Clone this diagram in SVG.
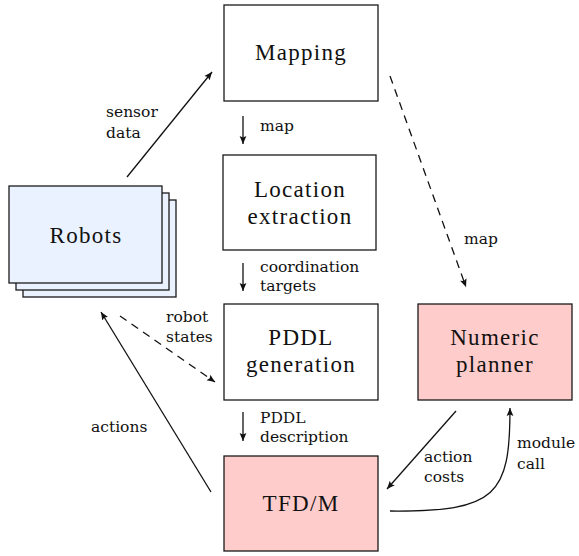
<svg xmlns="http://www.w3.org/2000/svg" width="579" height="556" viewBox="0 0 579 556">
  <style>
    .box { stroke: #1a1a1a; stroke-width: 1.3; }
    .plain { fill: #ffffff; }
    .solver { fill: #ffcccc; }
    .robot { fill: #eaf2ff; }
    .nlabel { font-size: 23px; letter-spacing: 1.3px; fill: #111; text-anchor: middle; }
    .elabel { font-size: 15.5px; fill: #111; }
    .edge { fill: none; stroke: #111; stroke-width: 1.3; marker-end: url(#tip); }
    .dashed { stroke-dasharray: 8 6; }
  </style>
  <defs>
    <marker id="tip" markerUnits="userSpaceOnUse" markerWidth="10" markerHeight="8" refX="8" refY="4" orient="auto">
      <path d="M0,0.6 L8,4 L0,7.4 L1.6,4 Z" fill="#111"/>
    </marker>
  </defs>

  <!-- nodes -->
  <g font-family="Liberation Serif, Times New Roman, serif">
    <g id="robots">
      <rect class="box robot" x="23" y="200" width="153" height="97"/>
      <rect class="box robot" x="16" y="193" width="153" height="97"/>
      <rect class="box robot" x="9" y="186" width="153" height="97"/>
      <text class="nlabel" x="86" y="243">Robots</text>
    </g>
    <g id="mapping">
      <rect class="box plain" x="224" y="5" width="154" height="96"/>
      <text class="nlabel" x="301" y="60">Mapping</text>
    </g>
    <g id="location-extraction">
      <rect class="box plain" x="223" y="155" width="153" height="95"/>
      <text class="nlabel" x="300" y="197">Location</text>
      <text class="nlabel" x="300" y="224">extraction</text>
    </g>
    <g id="pddl-generation">
      <rect class="box plain" x="224" y="304" width="154" height="96"/>
      <text class="nlabel" x="301" y="345">PDDL</text>
      <text class="nlabel" x="301" y="372">generation</text>
    </g>
    <g id="numeric-planner">
      <rect class="box solver" x="418" y="304" width="154" height="96"/>
      <text class="nlabel" x="495" y="345">Numeric</text>
      <text class="nlabel" x="495" y="372">planner</text>
    </g>
    <g id="tfdm">
      <rect class="box solver" x="224" y="456" width="154" height="95"/>
      <text class="nlabel" x="301" y="511">TFD/M</text>
    </g>
  </g>

  <!-- connectors -->
  <g id="connectors">
    <path class="edge" d="M127,177 L212,72"/>
    <path class="edge" d="M243,116 L243,144"/>
    <path class="edge" d="M243,263 L243,291"/>
    <path class="edge" d="M243,412 L243,441"/>
    <path class="edge dashed" d="M390,76 L466,287"/>
    <path class="edge dashed" d="M120,316 L215,382"/>
    <path class="edge" d="M211,492 L101,312"/>
    <path class="edge" d="M456,411 L387,489"/>
    <path class="edge" d="M390,511 C497,512 510,495 510,408"/>
  </g>

  <!-- connector labels -->
  <g id="labels" font-family="DejaVu Serif, serif">
    <text class="elabel" x="106" y="117">sensor</text>
    <text class="elabel" x="106" y="138">data</text>
    <text class="elabel" x="260" y="131">map</text>
    <text class="elabel" x="260" y="272">coordination</text>
    <text class="elabel" x="260" y="291">targets</text>
    <text class="elabel" x="260" y="423">PDDL</text>
    <text class="elabel" x="260" y="442">description</text>
    <text class="elabel" x="464" y="244">map</text>
    <text class="elabel" x="166" y="322">robot</text>
    <text class="elabel" x="166" y="342">states</text>
    <text class="elabel" x="91" y="432">actions</text>
    <text class="elabel" x="424" y="462">action</text>
    <text class="elabel" x="424" y="482">costs</text>
    <text class="elabel" x="517" y="448">module</text>
    <text class="elabel" x="517" y="469">call</text>
  </g>
</svg>
